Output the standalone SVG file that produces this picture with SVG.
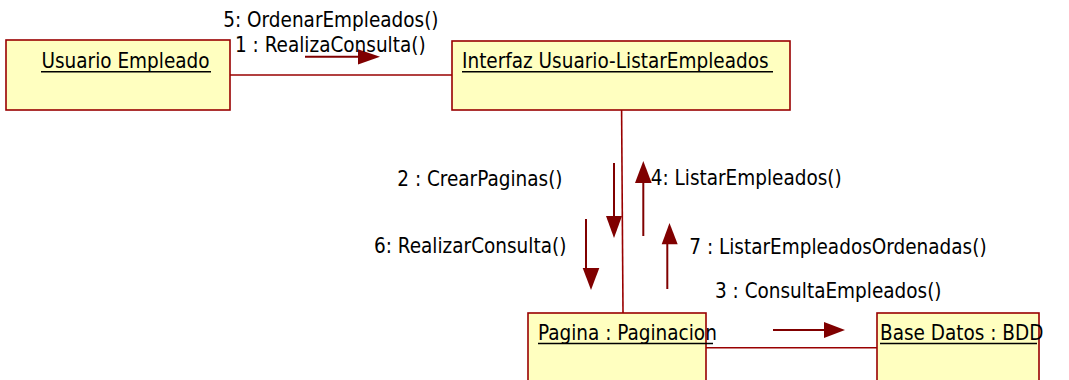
<svg xmlns="http://www.w3.org/2000/svg" width="1069" height="380" viewBox="0 0 1069 380">
<style>
.box{fill:#FFFFC0;stroke:#990000;stroke-width:1.6}
.t{font-family:"DejaVu Sans Condensed","DejaVu Sans","Liberation Sans",sans-serif;font-stretch:condensed;font-size:20.5px;fill:#000}
.ul{stroke:#000;stroke-width:1.6}
.link{stroke:#990000;stroke-width:1.6;fill:none}
.msg{stroke:#800000;stroke-width:2;fill:none}
.head{fill:#800000}
</style>
<rect width="1069" height="380" fill="#fff"/>
<g id="connectors">
<line class="link" x1="230" y1="75" x2="452" y2="75"/>
<line class="link" x1="621.6" y1="110" x2="623" y2="313"/>
<line class="link" x1="706" y1="347.7" x2="877" y2="347.7"/>
</g>
<g id="messages">
<g id="msg1">
<line class="msg" x1="305" y1="56.8" x2="359" y2="56.8"/>
<polygon class="head" points="358,49.3 380,56.8 358,64.5"/>
</g>
<g id="msg2">
<line class="msg" x1="614" y1="163" x2="614" y2="217"/>
<polygon class="head" points="606,216 622,216 614,238"/>
</g>
<g id="msg3">
<line class="msg" x1="773" y1="330" x2="825" y2="330"/>
<polygon class="head" points="824,322 845,330 824,338"/>
</g>
<g id="msg4">
<line class="msg" x1="643.3" y1="236" x2="643.3" y2="182"/>
<polygon class="head" points="635,183 651.7,183 643.3,161"/>
</g>
<g id="msg6">
<line class="msg" x1="586" y1="219" x2="586" y2="269"/>
<polygon class="head" points="582.7,268 599.3,268 591,290"/>
</g>
<g id="msg7">
<line class="msg" x1="667.3" y1="289" x2="667.3" y2="243"/>
<polygon class="head" points="661.7,244.3 677.7,244.3 669.5,223"/>
</g>
<text class="t" x="223.3" y="27">5: OrdenarEmpleados()</text>
<text class="t" x="235" y="51.7">1 : RealizaConsulta()</text>
<text class="t" x="397.3" y="186">2 : CrearPaginas()</text>
<text class="t" x="374" y="253.3">6: RealizarConsulta()</text>
<text class="t" x="650.7" y="185">4: ListarEmpleados()</text>
<text class="t" x="689.3" y="254.3">7 : ListarEmpleadosOrdenadas()</text>
<text class="t" x="715" y="298.3">3 : ConsultaEmpleados()</text>
</g>
<g id="usuario">
<rect class="box" x="6" y="40" width="224" height="70"/>
<text class="t" x="41.5" y="68.3">Usuario Empleado</text>
<line class="ul" x1="41" y1="71.7" x2="211" y2="71.7"/>
</g>
<g id="interfaz">
<rect class="box" x="452" y="41" width="338" height="69"/>
<text class="t" x="462" y="68.3">Interfaz Usuario-ListarEmpleados</text>
<line class="ul" x1="462" y1="71.7" x2="773" y2="71.7"/>
</g>
<g id="pagina">
<rect class="box" x="528" y="313" width="178" height="80"/>
<text class="t" x="538" y="340.3">Pagina : Paginacion</text>
<line class="ul" x1="538" y1="343.5" x2="713" y2="343.5"/>
</g>
<g id="basedatos">
<rect class="box" x="877" y="313" width="162" height="80"/>
<text class="t" x="880" y="340.3">Base Datos : BDD</text>
<line class="ul" x1="880" y1="343.5" x2="1037" y2="343.5"/>
</g>
</svg>
